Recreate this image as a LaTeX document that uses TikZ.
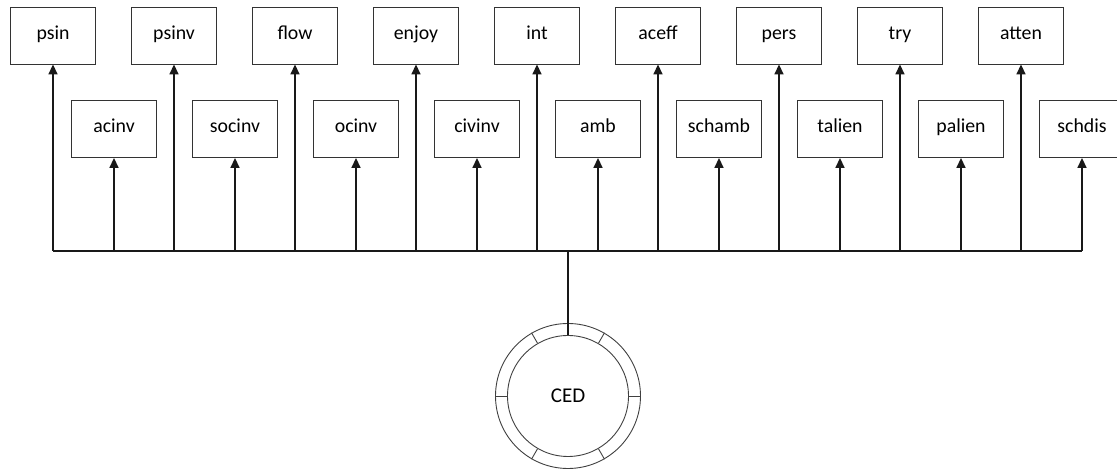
\documentclass[tikz,border=0pt]{standalone}
\usepackage{fontspec}
\setmainfont{Carlito}
\usetikzlibrary{arrows.meta}
\begin{document}
\begin{tikzpicture}[x=1pt,y=1pt,
  indbox/.style={draw=black!80,line width=0.9pt,minimum width=85pt,minimum height=57pt,inner sep=0pt,font=\fontsize{19.8}{21}\selectfont,text height=0.9em,text depth=0.1em,fill=white},
  link/.style={line width=1.6pt,black!90},
  arr/.style={link,-{Triangle[length=10pt,width=9pt]}},
  ring/.style={draw=black!75,line width=0.9pt}]
\useasboundingbox (0,0) rectangle (1117,470);
% top boxes
\foreach \n/\t [count=\i from 0] in {psin/psin,psinv/psinv,flow/flow,enjoy/enjoy,int/int,aceff/aceff,pers/pers,try/try,atten/atten}{
  \node[indbox] (\n) at ({53+121*\i},{470-35.5}) {\t};
}
% bottom boxes
\foreach \n/\t [count=\i from 0] in {acinv/acinv,socinv/socinv,ocinv/ocinv,civinv/civinv,amb/amb,schamb/schamb,talien/talien,palien/palien,schdis/schdis}{
  \node[indbox] (\n) at ({114+121*\i},{470-129}) {\t};
}
% latent
\node[circle,ring,minimum size=121pt,inner sep=0pt,font=\fontsize{21}{23}\selectfont] (CED) at (568,74) {CED};
\node[circle,ring,minimum size=145pt,inner sep=0pt] (CEDo) at (568,74) {};
\foreach \a in {0,60,120,180,240,300}{
  \draw[ring] (CED.\a) -- (CEDo.\a);
}
% bus
\coordinate (busL) at (53,219);
\coordinate (busR) at (1082,219);
\coordinate (busC) at (568,219);
\draw[link] (busL) -- (busR);
\draw[link] (busC) -- (CED.north);
\foreach \n in {psin,psinv,flow,enjoy,int,aceff,pers,try,atten,acinv,socinv,ocinv,civinv,amb,schamb,talien,palien,schdis}{
  \draw[arr] (busL -| \n.south) -- (\n.south);
}
\end{tikzpicture}
\end{document}
